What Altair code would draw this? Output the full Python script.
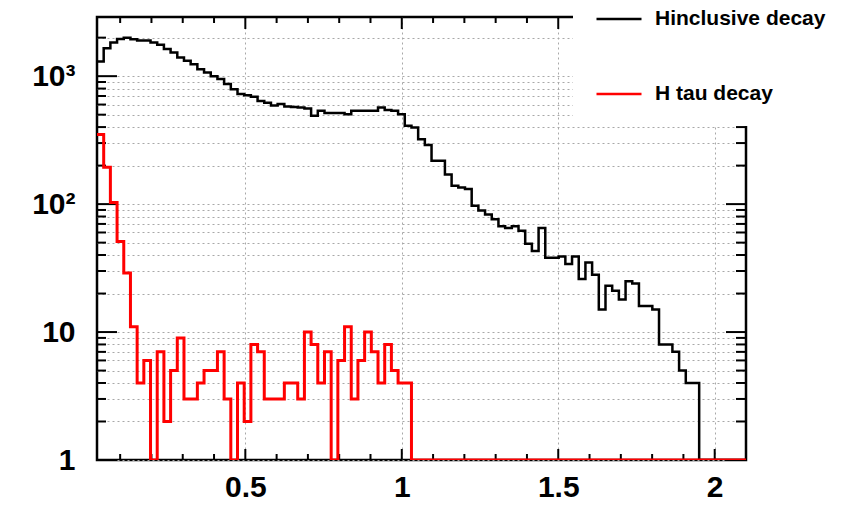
import altair as alt
import numpy as np
import pandas as pd

# ---- data ----
X_START = 0.026
X_END = 2.1
N_BINS = 97

NAME_INC = "Hinclusive decay"
NAME_TAU = "H tau decay"

INCLUSIVE = [1300, 1650, 1830, 1950, 2000, 1940, 1900, 1900, 1830, 1760,
             1630, 1530, 1400, 1320, 1240, 1130, 1070, 1000, 950, 870,
             790, 725, 710, 690, 640, 620, 590, 605, 580, 575,
             570, 560, 490, 537, 515, 515, 515, 505, 537, 537,
             537, 537, 570, 545, 537, 505, 410, 397, 322, 290,
             218, 218, 170, 139, 135, 131, 97, 89, 83, 76,
             67, 65, 67, 62, 49, 43, 65, 38, 38, 39,
             34, 39, 26, 35, 28, 15, 23, 21, 18, 25,
             24, 16, 16, 15, 8, 8, 7, 5, 4, 4,
             0, 0, 0, 0, 0, 0, 0]

TAU = [350, 194, 103, 51, 29, 11, 4, 6, 0, 7,
       2, 5, 9, 3, 3, 4, 5, 5, 7, 3,
       0, 4, 2, 8, 7, 3, 3, 3, 4, 4,
       3, 10, 8, 4, 7, 0, 6, 11, 3, 6,
       10, 7, 4, 8, 5, 4, 4] + [0] * 50

X_MAJOR = [0.5, 1, 1.5, 2]
X_MINOR = [0.1, 0.2, 0.3, 0.4, 0.6, 0.7, 0.8, 0.9, 1.1, 1.2, 1.3, 1.4,
           1.6, 1.7, 1.8, 1.9, 2.1]
Y_MAJOR = [1, 10, 100, 1000]
Y_LABELS = ["1", "10", "10²", "10³"]
Y_MINOR = [2, 3, 4, 5, 6, 7, 8, 9, 20, 30, 40, 50, 60, 70, 80, 90,
           200, 300, 400, 500, 600, 700, 800, 900, 2000]
Y_MAX = 2900

# ---- build tables ----
edges = np.linspace(X_START, X_END, N_BINS + 1)


def step_frame(values, name):
    v = np.maximum(np.array(values, dtype=float), 1.0)  # empty bins sit on the log floor, as in ROOT
    return pd.DataFrame({"x": edges, "y": np.append(v, v[-1]), "series": name})


inc_df = step_frame(INCLUSIVE, NAME_INC)
tau_df = step_frame(TAU, NAME_TAU)

W, H = 649, 443
FONT = "Liberation Sans"

xscale = alt.Scale(domain=[X_START, X_END], nice=False, zero=False)
yscale = alt.Scale(type="log", domain=[1, Y_MAX], nice=False)

label_expr = " : ".join(
    f"datum.value == {v} ? '{t}'" for v, t in zip(Y_MAJOR, Y_LABELS)
) + " : ''"

color = alt.Color(
    "series:N",
    scale=alt.Scale(domain=[NAME_INC, NAME_TAU], range=["#000000", "#ff0000"]),
    legend=alt.Legend(
        title=None, orient="none", legendX=476, legendY=-44,
        direction="vertical", fillColor="white", padding=22,
        symbolType="stroke", symbolSize=2025, symbolStrokeWidth=2.5,
        labelFont=FONT, labelFontSize=21, labelFontWeight="bold",
        labelColor="black", labelOffset=12, rowPadding=41, labelLimit=400,
    ),
)

x_axis = alt.Axis(
    values=X_MAJOR, title=None, ticks=False, domain=False, grid=True,
    gridDash=[2, 3], gridColor="#a8a8a8", gridWidth=1,
    labelFont=FONT, labelFontSize=30, labelFontWeight="bold", labelColor="black",
    labelPadding=12, labelFlush=False, format="~g",
)
y_axis = alt.Axis(
    values=Y_MAJOR + Y_MINOR, title=None, ticks=False, domain=False, grid=True,
    gridDash=[2, 3], gridColor="#a8a8a8", gridWidth=1, labelExpr=label_expr,
    labelFont=FONT, labelFontSize=30, labelFontWeight="bold", labelColor="black",
    labelPadding=22, labelOverlap=False,
)

inc = alt.Chart(inc_df).mark_line(interpolate="step-after", strokeWidth=2.5, clip=True).encode(
    x=alt.X("x:Q", scale=xscale, axis=x_axis),
    y=alt.Y("y:Q", scale=yscale, axis=y_axis),
    color=color,
)
tau = alt.Chart(tau_df).mark_line(interpolate="step-after", strokeWidth=3, clip=True).encode(
    x=alt.X("x:Q", scale=xscale, axis=x_axis),
    y=alt.Y("y:Q", scale=yscale, axis=y_axis),
    color=color,
)


def xticks(vals, y0, y1):
    return alt.Chart(pd.DataFrame({"x": vals})).mark_rule(color="black", strokeWidth=2).encode(
        x=alt.X("x:Q", scale=xscale, axis=x_axis), y=alt.value(y0), y2=alt.value(y1)
    )


def yticks(vals, x0, x1):
    return alt.Chart(pd.DataFrame({"y": vals})).mark_rule(color="black", strokeWidth=2).encode(
        y=alt.Y("y:Q", scale=yscale, axis=y_axis), x=alt.value(x0), x2=alt.value(x1)
    )


ticks = [
    xticks(X_MAJOR, H, H - 11), xticks(X_MINOR, H, H - 6),
    xticks(X_MAJOR, 0, 12), xticks(X_MINOR, 0, 6),
    yticks(Y_MAJOR, 0, 20), yticks(Y_MINOR, 0, 9),
    yticks(Y_MAJOR, W, W - 20), yticks(Y_MINOR, W, W - 10),
]

chart = alt.layer(inc, *ticks, tau).properties(
    width=W, height=H,
    padding={"left": 97, "top": 17, "right": 110, "bottom": 47},
    autosize=alt.AutoSizeParams(type="none"),
).configure_view(stroke="black", strokeWidth=2.5)

chart.save("out.html", embed_options={"renderer": "svg", "actions": False})
